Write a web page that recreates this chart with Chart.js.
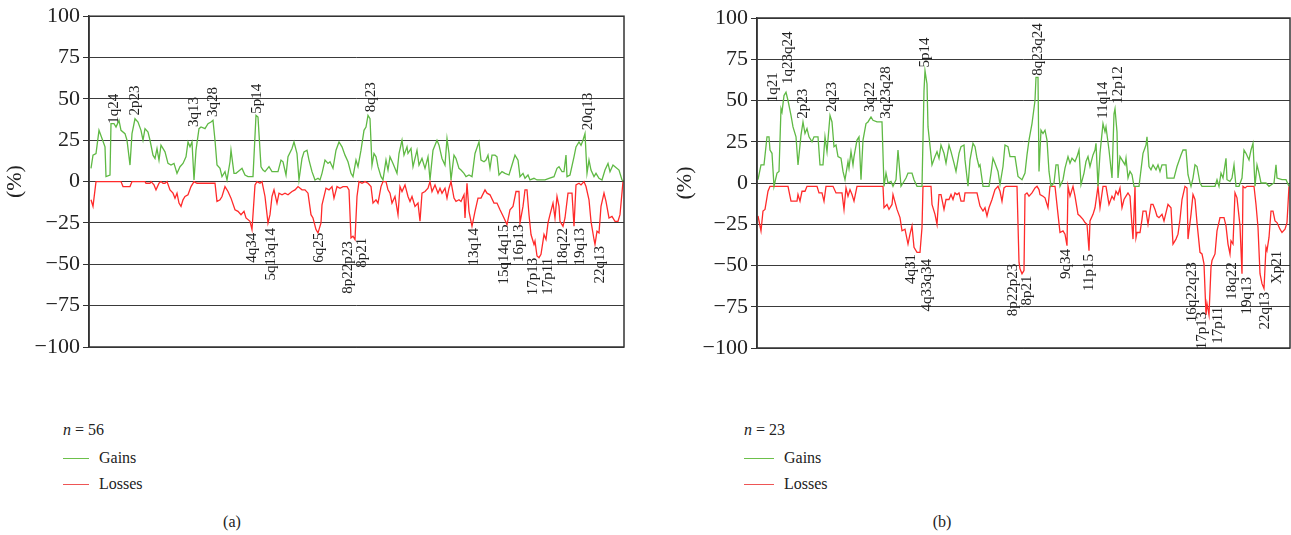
<!DOCTYPE html>
<html>
<head>
<meta charset="utf-8">
<script src="https://cdn.jsdelivr.net/npm/chart.js@4.4.1/dist/chart.umd.min.js"></script>
<style>
  body { margin: 0; width: 1291px; height: 535px; background: #fff; position: relative; overflow: hidden;
         font-family: "Liberation Serif", serif; color: #222; }
  canvas { position: absolute; top: 0; }
  .txt { position: absolute; font-size: 16px; line-height: 20px; white-space: nowrap; }
  .sw { display: inline-block; width: 26px; border-top: 1.5px solid; vertical-align: middle; margin-right: 10px; position: relative; top: -1px; }
  .cap { position: absolute; font-size: 16px; line-height: 20px; width: 60px; text-align: center; }
</style>
</head>
<body>
<canvas id="chartA" width="640" height="365" style="left:0px"></canvas>
<canvas id="chartB" width="621" height="365" style="left:670px"></canvas>

<div class="txt" style="left:63px; top:420px"><i>n</i> = 56</div>
<div class="txt" style="left:63px; top:448px"><span class="sw" style="border-color:#6cc04a"></span>Gains</div>
<div class="txt" style="left:63px; top:474px"><span class="sw" style="border-color:#ee5555"></span>Losses</div>
<div class="cap" style="left:202px; top:512px">(a)</div>

<div class="txt" style="left:744px; top:420px"><i>n</i> = 23</div>
<div class="txt" style="left:744px; top:448px"><span class="sw" style="border-color:#6cc04a; width:30px"></span>Gains</div>
<div class="txt" style="left:744px; top:474px"><span class="sw" style="border-color:#ee5555; width:30px"></span>Losses</div>
<div class="cap" style="left:912px; top:512px">(b)</div>

<script>
// genome bin position / frequency (%)
const gainPosA = [2,4,7,10,13,16,17,21,22,25,27,30,32,36,38,41,43,46,49,52,54,56,59,61,64,66,68,70,72,76,79,82,85,88,91,94,97,99,101,103,105,107,110,112,116,119,122,124,126,128,131,133,136,138,141,142,145,147,151,153,156,159,164,167,169,172,174,
  176,180,183,189,192,194,197,199,203,205,208,210,213,215,218,220,223,226,229,231,233,236,239,241,244,247,250,253,256,259,262,264,267,269,272,275,277,279,281,283,285,287,289,292,294,297,299,301,304,308,310,313,315,318,319,322,324,328,330,333,336,339,341,344,348,350,
  353,356,358,360,362,365,367,370,372,375,377,380,383,386,390,392,395,397,399,401,403,406,408,410,413,416,420,423,426,429,431,434,436,439,441,445,448,453,456,460,465,468,470,473,475,477,478,481,485,487,490,492,494,496,498,500,502,505,507,510,513,516,519,521,524,526,530,533,535];
const gainValA = [8,16,17,31,26,21,3,4,35,35,33,37,31,29,25,10,29,38,36,31,25,32,30,25,16,14,20,13,22,18,11,10,11,5,9,11,15,24,21,24,1,19,32,33,32,35,36,37,25,10,8,3,6,1,12,19,5,5,7,8,4,3,3,40,39,9,7,
  6,9,6,6,13,12,4,15,20,24,17,1,14,18,19,13,6,1,2,1,5,13,11,12,8,19,24,21,16,12,5,3,13,9,19,31,33,40,38,10,17,15,9,3,1,13,7,15,11,5,17,25,16,21,17,20,9,19,10,14,8,15,1,19,25,22,
  14,10,26,17,1,16,14,8,7,5,3,4,3,17,24,13,12,13,16,8,16,16,15,4,6,5,4,10,16,13,3,5,2,4,1,2,1,1,1,2,3,8,9,6,6,16,3,4,15,21,24,22,25,29,5,13,7,3,5,2,1,7,11,6,10,9,7,1,0];
const lossPosA = [2,4,7,32,34,41,43,56,57,61,62,65,67,70,72,74,76,78,81,84,86,88,90,92,94,96,99,102,105,108,126,128,131,133,136,139,142,146,149,152,155,157,161,163,166,168,171,173,
  176,179,181,183,185,188,190,193,196,199,203,206,209,213,216,219,222,224,227,229,232,233,237,240,243,245,248,251,254,258,260,262,264,266,268,270,273,276,279,282,284,287,289,292,294,297,299,301,303,306,309,311,313,316,319,321,323,326,329,331,333,336,339,341,343,346,349,351,
  353,356,358,360,362,365,367,370,372,375,376,378,380,383,386,389,392,396,398,401,405,408,411,415,418,421,424,427,430,431,434,436,438,440,442,445,446,448,450,452,455,457,459,461,464,466,468,470,471,474,476,479,483,485,487,490,492,495,497,500,502,505,506,508,510,512,515,517,520,523,526,529,531,534];
const lossValA = [-11,-15,0,0,-3,-3,0,0,-1,-1,0,-2,-5,-1,0,-1,-1,0,-5,-7,-10,-7,-13,-15,-11,-9,-8,-3,0,-1,-1,-12,-11,-9,-3,-6,-10,-17,-18,-20,-18,-22,-24,-29,-2,0,-1,0,
  -9,-25,-20,-9,-5,-13,-7,-8,-7,-8,-6,-5,-3,-5,-5,-7,-20,-22,-29,-31,-25,-14,-4,-5,-3,-10,-3,-4,-3,-3,-5,-34,-33,-35,-9,0,-1,0,-1,-3,-13,-11,-13,-3,0,0,-5,-7,-13,-9,-20,-3,-6,-2,-9,-12,-9,-15,-13,-24,-7,-6,-4,0,-6,-2,-7,-4,
  -7,-4,-10,-4,0,-10,-12,-11,-12,-8,-22,-1,-18,-27,-18,-10,-10,-5,-7,-8,-13,-13,-17,-22,-26,-17,-15,-6,-6,-25,-15,-5,-5,-20,-32,-38,-36,-45,-46,-44,-32,-35,-25,-20,-13,-22,-9,-15,-24,-27,-22,-7,-7,-27,-2,-1,-2,0,-3,-11,-24,-35,-38,-30,-31,-15,-7,-12,-22,-21,-24,-24,-20,0];

const gainPosB = [1,4,7,10,12,13,15,17,20,22,24,25,27,29,31,34,36,39,41,44,46,48,50,52,55,57,61,63,66,68,70,73,75,77,79,81,84,86,88,91,92,94,96,97,100,102,104,106,109,111,114,116,120,125,127,129,131,134,136,139,141,144,146,149,151,155,157,160,165,167,168,170,171,
  175,178,180,182,184,187,189,192,194,197,199,202,204,207,208,211,213,216,218,220,222,223,226,232,234,236,238,241,243,246,248,251,253,258,261,265,268,270,272,275,278,279,281,282,284,286,288,290,292,294,297,299,301,303,306,308,311,313,315,318,320,322,324,327,329,331,333,336,338,339,341,343,346,348,349,
  352,355,357,358,360,361,363,365,368,369,371,373,375,377,382,384,386,389,390,392,394,396,399,401,403,405,409,410,417,420,424,426,429,431,434,436,438,440,443,445,458,460,462,464,466,469,470,473,475,477,479,482,485,487,489,492,494,496,498,500,502,504,509,512,517,519,520,525,529,532];
const gainValB = [2,11,11,28,28,20,18,-2,6,7,45,43,53,55,50,41,34,28,11,29,37,30,33,28,25,28,28,11,11,28,19,41,37,22,23,16,15,7,2,13,9,19,11,16,26,28,2,26,36,37,40,38,37,37,-2,6,0,1,-2,2,20,-2,0,3,6,6,2,-2,-2,56,68,60,34,
  11,16,19,15,23,18,12,23,19,12,7,18,22,23,14,-2,14,24,22,15,10,11,-2,-2,6,15,12,7,-1,10,23,22,16,16,4,2,6,17,26,36,50,64,64,7,32,30,32,26,7,-2,0,11,11,-2,2,9,16,12,15,13,16,20,-1,6,13,16,10,17,20,24,-2,18,36,31,34,
  20,3,42,45,31,3,16,14,11,15,3,7,5,-2,-2,8,18,23,28,10,8,11,8,11,7,11,11,3,3,10,17,20,20,5,-2,3,11,10,0,-2,-2,2,-2,6,3,15,2,1,3,11,-2,-2,3,20,18,14,20,24,-2,11,6,0,0,-2,0,11,3,2,2,-2];
const lossPosB = [1,4,6,8,11,13,31,34,40,41,43,45,48,50,60,62,65,67,69,76,79,85,87,89,91,93,95,97,100,126,127,130,132,135,136,140,143,145,148,151,153,155,157,160,163,165,166,174,
  175,178,180,182,184,187,189,192,194,196,198,200,202,204,207,208,220,223,226,228,230,232,235,238,241,243,245,247,249,252,260,262,263,265,267,268,270,272,275,278,280,282,283,286,288,291,293,298,301,303,306,308,310,311,313,316,318,321,323,326,328,330,332,333,336,338,341,343,346,349,
  352,355,357,359,361,363,365,367,369,371,373,375,376,378,379,380,383,385,386,389,391,394,396,398,400,402,405,407,409,411,414,416,419,421,423,425,428,430,431,434,436,438,440,443,445,447,449,450,452,454,455,458,460,463,467,469,471,473,474,476,478,480,483,485,486,488,490,497,499,501,503,505,507,509,510,512,514,516,518,520,523,525,528,530,532];
const lossValB = [-20,-29,-17,-16,-5,-2,-2,-11,-11,-7,-11,-5,-5,-2,-2,-6,-6,-11,-2,-2,-6,-6,-16,-3,-8,-4,-7,-11,-2,-2,-15,-13,-16,-13,-7,-16,-21,-29,-28,-37,-31,-26,-39,-42,-42,-27,-2,-2,
  -13,-19,-25,-7,-7,-16,-10,-10,-7,-10,-6,-7,-6,-11,-11,-6,-6,-14,-17,-15,-20,-15,-10,-4,-2,-5,-11,-3,-2,-2,-2,-48,-52,-55,-53,-7,-6,-8,-6,-3,-2,-4,-7,-8,-9,-15,-2,-2,-19,-30,-29,-31,-38,-2,-8,-2,-8,-19,-20,-22,-24,-25,-41,-23,-19,-15,-2,-15,-2,-2,
  -13,-8,-10,-5,-7,-3,-15,-10,-8,-6,-8,-26,-34,-2,-33,-30,-30,-22,-17,-17,-25,-13,-13,-16,-20,-21,-19,-23,-18,-13,-15,-37,-34,-31,-22,-10,-2,-3,-34,-19,-7,-10,-24,-42,-43,-49,-80,-73,-80,-51,-47,-43,-29,-21,-21,-26,-37,-43,-35,-37,-6,-9,-26,-55,-2,-3,-2,-2,-13,-27,-55,-61,-64,-39,-41,-33,-17,-17,-23,-24,-28,-30,-28,-24,-2];

// cytoband annotations: name, bin position, attachment level (%)
const bandA = ['1q24','2p23','3q13','3q28','5p14','8q23','20q13','4q34','5q13q14','6q25','8p22p23','8p21','13q14','15q14q15','16p13','17p13','17p11','18q22','19q13','22q13'];
const bandPosA = [25,46,105,124,168,282,499,163,182,230,259,273,385,415,430,444,459,474,491,511];
const bandValA = [35,40,33,39,41,42,31,-31,-28,-31,-36,-34,-28,-26,-26,-46,-46,-28,-28,-39];

const bandB = ['1q21','1q23q24','2p23','2q23','3q22','3q23q28','5p14','8q23q24','11q14','12p12','4q31','4q33q34','8p22p23','8p21','9q34','11p15','16q22q23','17p13','17p11','18q22','19q13','22q13','Xp21'];
const bandPosB = [16,31,46,75,113,129,168,281,346,361,154,170,256,270,309,332,435,445,461,475,490,508,520];
const bandValB = [49,60,39,43,43,39,70,65,39,48,-43,-46,-49,-56,-40,-43,-48,-78,-75,-48,-57,-66,-41];

const GREEN = '#5fb944';
const RED = '#ff2a2a';
const serif = '"Liberation Serif", serif';

function toPoints(pos, val) {
  return pos.map((p, i) => ({ x: p, y: val[i] }));
}

// frame round the plot + rotated band names
function bandPlugin(names, pos, val) {
  return {
    id: 'bands',
    afterDatasetsDraw(chart) {
      const { ctx, chartArea, scales } = chart;
      ctx.save();
      ctx.strokeStyle = '#333';
      ctx.lineWidth = 1.5;
      ctx.strokeRect(chartArea.left, chartArea.top, chartArea.right - chartArea.left, chartArea.bottom - chartArea.top);
      ctx.fillStyle = '#222';
      ctx.font = '15px ' + serif;
      ctx.textBaseline = 'middle';
      names.forEach((name, i) => {
        const px = scales.x.getPixelForValue(pos[i]);
        const py = scales.y.getPixelForValue(val[i]);
        ctx.save();
        ctx.translate(px, py);
        ctx.rotate(-Math.PI / 2);
        ctx.textAlign = val[i] > 0 ? 'left' : 'right';
        ctx.fillText(name, 0, 0);
        ctx.restore();
      });
      ctx.restore();
    },
  };
}

function makeChart(id, gains, losses, bands, xMax, yWidth, pad) {
  const ctx = document.getElementById(id).getContext('2d');
  return new Chart(ctx, {
    type: 'line',
    data: {
      datasets: [
        { label: 'Gains', data: gains, borderColor: GREEN, borderWidth: 1.3, pointRadius: 0, tension: 0, fill: false },
        { label: 'Losses', data: losses, borderColor: RED, borderWidth: 1.3, pointRadius: 0, tension: 0, fill: false },
      ],
    },
    options: {
      responsive: false,
      animation: false,
      layout: { padding: pad },
      plugins: { legend: { display: false }, tooltip: { enabled: false } },
      scales: {
        x: { type: 'linear', min: 0, max: xMax, display: false },
        y: {
          min: -100,
          max: 100,
          ticks: {
            stepSize: 25,
            color: '#222',
            padding: 3,
            font: { family: serif, size: 22 },
            callback: (v) => (v < 0 ? '\u2212' + Math.abs(v) : v),
          },
          grid: { color: '#3a3a3a', lineWidth: 1, tickLength: 6, tickColor: '#333' },
          border: { color: '#333', width: 1.5 },
          title: { display: true, text: '(%)', color: '#222', font: { family: serif, size: 22 }, padding: { top: 2, bottom: 0 } },
          afterFit: (scale) => {
            scale.width = yWidth;
          },
        },
      },
    },
    plugins: [bands],
  });
}

makeChart('chartA', toPoints(gainPosA, gainValA), toPoints(lossPosA, lossValA),
  bandPlugin(bandA, bandPosA, bandValA), 535, 89, { top: 16, bottom: 18, right: 16, left: 0 });
makeChart('chartB', toPoints(gainPosB, gainValB), toPoints(lossPosB, lossValB),
  bandPlugin(bandB, bandPosB, bandValB), 533, 87, { top: 18, bottom: 17, right: 1, left: 0 });
</script>
</body>
</html>
